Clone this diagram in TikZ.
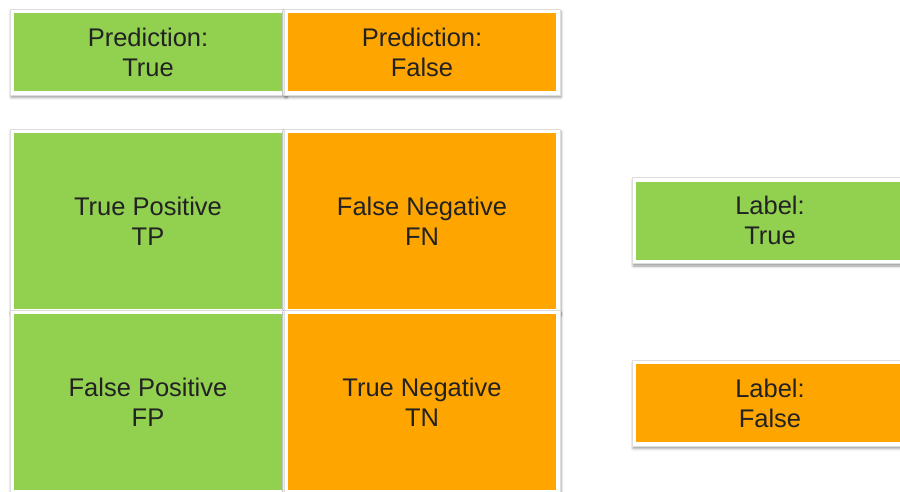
\documentclass[tikz,border=0pt]{standalone}
\usepackage{fontspec}
\setmainfont{Liberation Sans}
\usetikzlibrary{shadows.blur}
\definecolor{cellgreen}{HTML}{92D050}
\definecolor{cellorange}{HTML}{FFA500}
\definecolor{inktext}{HTML}{222222}
\begin{document}
\begin{tikzpicture}[x=1pt,y=-1pt,
  card/.style={inner sep=0pt, fill=white, draw=black!13, line width=0.6pt,
    minimum width=276pt,
    blur shadow={shadow xshift=1pt, shadow yshift=-2.5pt,
      shadow blur radius=2.5pt, shadow opacity=40},
    path picture={\fill[#1]
      ([shift={(4pt,4pt)}]path picture bounding box.south west) rectangle
      ([shift={(-4pt,-4pt)}]path picture bounding box.north east);},
    font=\fontsize{25.5pt}{30pt}\selectfont, text=inktext, align=center},
  short/.style={card=#1, minimum height=86pt},
  tall/.style={card=#1, minimum height=184pt}]
  \useasboundingbox (0,0) rectangle (900,491);
  \clip (0,0) rectangle (900,491);

  % prediction header
  \node[short=cellgreen]  (predT) at (148,52) {Prediction:\\True};
  \node[short=cellorange] (predF) at (422,52) {Prediction:\\False};

  % confusion matrix
  \node[tall=cellgreen]  (tp) at (148,221) {True Positive\\TP};
  \node[tall=cellorange] (fn) at (422,221) {False Negative\\FN};
  \node[tall=cellgreen]  (fp) at (148,402) {False Positive\\FP};
  \node[tall=cellorange] (tn) at (422,402) {True Negative\\TN};

  % actual labels
  \node[short=cellgreen]  (labT) at (770,220.5) {Label:\\True};
  \node[short=cellorange] (labF) at (770,403) {Label:\\False};
\end{tikzpicture}
\end{document}
